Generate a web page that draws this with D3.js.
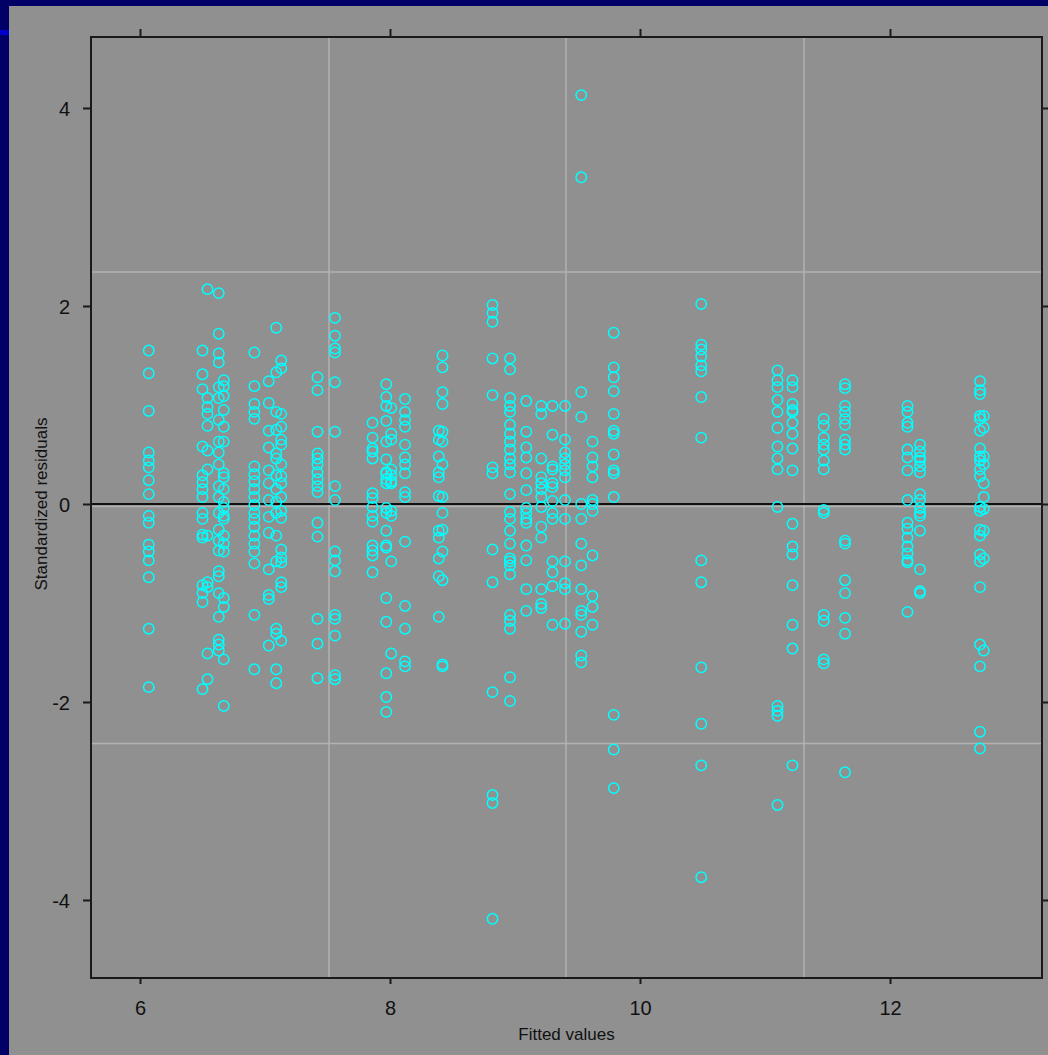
<!DOCTYPE html>
<html>
<head>
<meta charset="utf-8">
<script src="https://cdn.jsdelivr.net/npm/d3@7"></script>
<style>
  body { margin: 0; background: #000066; overflow: hidden; }
  text { font-family: "Liberation Sans", Arial, sans-serif; fill: #111; }
</style>
</head>
<body>
<script>
// fitted value of each column of points
var columnFits = [6.07, 6.50, 6.54, 6.63, 6.67, 6.915, 7.03, 7.09, 7.13, 7.42, 7.56,
  7.86, 7.97, 8.01, 8.12, 8.39, 8.42, 8.82, 8.96, 9.09, 9.21, 9.30, 9.40, 9.53,
  9.62, 9.79, 10.49, 11.10, 11.22, 11.47, 11.64, 12.14, 12.24, 12.72, 12.75];

// standardized residuals for each column (same order as columnFits)
var columnResiduals = [
  [1.55, 1.32, 0.94, 0.52, 0.44, 0.37, 0.24, 0.10, -0.12, -0.19, -0.41, -0.48, -0.57, -0.74, -1.26, -1.85],
  [1.55, 1.31, 1.16, 0.58, 0.29, 0.22, 0.15, 0.07, -0.09, -0.15, -0.31, -0.34, -0.82, -0.90, -0.99, -1.87],
  [2.17, 1.07, 0.98, 0.91, 0.79, 0.54, 0.35, -0.32, -0.79, -0.84, -1.51, -1.77],
  [2.13, 1.72, 1.52, 1.43, 1.18, 1.07, 0.85, 0.63, 0.52, 0.40, 0.18, 0.07, -0.09, -0.26, -0.37, -0.47, -0.68, -0.73, -0.90, -1.14, -1.37, -1.42, -1.48],
  [1.25, 1.19, 1.09, 0.95, 0.78, 0.63, 0.31, 0.27, 0.15, 0.02, -0.04, -0.12, -0.15, -0.32, -0.40, -0.48, -0.95, -1.04, -1.57, -2.04],
  [1.53, 1.19, 1.01, 0.93, 0.86, 0.38, 0.30, 0.23, 0.15, 0.07, -0.01, -0.09, -0.15, -0.23, -0.32, -0.40, -0.48, -0.60, -1.12, -1.67],
  [1.24, 1.02, 0.74, 0.57, 0.34, 0.21, 0.04, -0.13, -0.29, -0.66, -0.92, -0.96, -1.43],
  [1.78, 1.33, 0.93, 0.75, 0.51, 0.46, 0.29, 0.15, 0.02, -0.09, -0.32, -0.58, -1.26, -1.31, -1.67, -1.81],
  [1.45, 1.37, 0.91, 0.78, 0.65, 0.60, 0.40, 0.28, 0.21, 0.07, -0.07, -0.14, -0.46, -0.54, -0.59, -0.79, -0.84, -1.38],
  [1.28, 1.15, 0.73, 0.51, 0.46, 0.40, 0.32, 0.25, 0.18, 0.12, -0.19, -0.33, -1.16, -1.41, -1.76],
  [1.88, 1.70, 1.57, 1.53, 1.23, 0.73, 0.18, 0.04, -0.48, -0.57, -0.68, -1.12, -1.16, -1.33, -1.73, -1.77],
  [0.82, 0.67, 0.56, 0.53, 0.46, 0.11, 0.06, -0.03, -0.12, -0.18, -0.42, -0.47, -0.52, -0.69],
  [1.21, 1.08, 0.99, 0.84, 0.63, 0.45, 0.32, 0.31, 0.25, 0.21, -0.04, -0.09, -0.27, -0.42, -0.44, -0.95, -1.19, -1.71, -1.95, -2.10],
  [0.97, 0.71, 0.65, 0.35, 0.29, 0.23, 0.21, -0.07, -0.12, -0.58, -1.51],
  [1.06, 0.93, 0.85, 0.78, 0.60, 0.47, 0.40, 0.31, 0.12, 0.07, -0.38, -1.03, -1.26, -1.59, -1.64],
  [0.74, 0.65, 0.48, 0.32, 0.27, 0.08, -0.27, -0.34, -0.55, -0.73, -1.14],
  [1.50, 1.38, 1.13, 1.01, 0.73, 0.63, 0.40, 0.07, -0.09, -0.26, -0.48, -0.77, -1.62, -1.64],
  [2.01, 1.93, 1.84, 1.47, 1.10, 0.37, 0.31, -0.46, -0.79, -1.90, -2.94, -3.02, -4.19],
  [1.47, 1.36, 1.07, 0.99, 0.93, 0.80, 0.71, 0.63, 0.55, 0.46, 0.40, 0.32, 0.10, -0.08, -0.15, -0.27, -0.40, -0.55, -0.58, -0.62, -0.71, -1.12, -1.18, -1.26, -1.75, -1.99],
  [1.04, 0.73, 0.57, 0.47, 0.31, 0.14, -0.04, -0.09, -0.15, -0.19, -0.42, -0.57, -0.86, -1.08],
  [0.99, 0.91, 0.46, 0.27, 0.21, 0.15, 0.07, -0.03, -0.23, -0.34, -0.86, -1.01, -1.05],
  [0.99, 0.70, 0.38, 0.35, 0.21, 0.17, 0.03, -0.09, -0.15, -0.58, -0.69, -0.83, -1.22],
  [0.99, 0.65, 0.52, 0.46, 0.40, 0.34, 0.27, 0.04, -0.15, -0.58, -0.80, -0.86, -1.21],
  [4.13, 3.30, 1.13, 0.88, 0.00, -0.15, -0.40, -0.62, -0.86, -1.08, -1.12, -1.29, -1.53, -1.60],
  [0.63, 0.47, 0.38, 0.27, 0.04, 0.00, -0.07, -0.52, -0.93, -1.04, -1.22],
  [1.73, 1.38, 1.28, 1.14, 0.91, 0.74, 0.71, 0.50, 0.34, 0.31, 0.07, -2.13, -2.48, -2.87],
  [2.02, 1.61, 1.56, 1.49, 1.40, 1.34, 1.08, 0.67, -0.57, -0.79, -1.65, -2.22, -2.64, -3.77],
  [1.35, 1.25, 1.18, 1.05, 0.93, 0.77, 0.58, 0.46, 0.35, -0.03, -2.04, -2.09, -2.14, -3.04],
  [1.25, 1.18, 1.01, 0.95, 0.93, 0.82, 0.71, 0.56, 0.34, -0.20, -0.43, -0.51, -0.82, -1.22, -1.46, -2.64],
  [0.86, 0.79, 0.67, 0.60, 0.55, 0.44, 0.35, -0.06, -0.09, -1.12, -1.18, -1.57, -1.61],
  [1.21, 1.17, 0.99, 0.93, 0.86, 0.80, 0.65, 0.60, 0.55, -0.37, -0.40, -0.77, -0.90, -1.15, -1.31, -2.71],
  [0.99, 0.93, 0.82, 0.78, 0.55, 0.47, 0.34, 0.04, -0.19, -0.25, -0.34, -0.43, -0.50, -0.57, -0.59, -1.09],
  [0.60, 0.53, 0.47, 0.44, 0.38, 0.32, 0.10, 0.04, -0.04, -0.09, -0.12, -0.27, -0.66, -0.88, -0.90],
  [1.24, 1.15, 1.11, 0.89, 0.86, 0.74, 0.56, 0.48, 0.44, 0.35, 0.28, -0.03, -0.07, -0.26, -0.32, -0.51, -0.58, -0.84, -1.42, -1.64, -2.30, -2.47],
  [0.89, 0.77, 0.48, 0.40, 0.21, 0.07, -0.05, -0.27, -0.55, -1.48]
];

// axis ticks and the light reference lines
var xTicks = [6, 8, 10, 12];
var yTicks = [-4, -2, 0, 2, 4];
var xRefLines = [7.512, 9.408, 11.312];
var yRefLines = [2.343, -0.025, -2.419];

// flatten columns into points
var points = [];
for (let i = 0; i < columnFits.length; i++){
  for (let j = 0; j < columnResiduals[i].length; j++){
    points.push({"fit": columnFits[i], "res": columnResiduals[i][j]});
  }
}

var w = 1048;
var h = 1055;
var box = {left: 91, right: 1042, top: 37, bottom: 978};

var svg = d3.select("body")
            .append("svg")
            .attr("width", w)
            .attr("height", h);

// gray panel and the little blue strip on the left
svg.append("rect")
   .attr("x", 9).attr("y", 6)
   .attr("width", w - 9).attr("height", h - 6)
   .style("fill", "#909090");
svg.append("rect")
   .attr("x", 0).attr("y", 30)
   .attr("width", 9).attr("height", 5)
   .style("fill", "#0000c8");

var xScale = d3.scaleLinear()
               .domain([5.608, 13.216])
               .range([box.left, box.right]);

var yScale = d3.scaleLinear()
               .domain([4.717, -4.788])
               .range([box.top, box.bottom]);

// reference lines
svg.append("g")
   .selectAll("line")
   .data(xRefLines)
   .enter()
   .append("line")
   .attr("x1", function(d){ return xScale(d); })
   .attr("x2", function(d){ return xScale(d); })
   .attr("y1", box.top).attr("y2", box.bottom)
   .style("stroke", "#b2b2b2")
   .style("stroke-width", 1.5);

svg.append("g")
   .selectAll("line")
   .data(yRefLines)
   .enter()
   .append("line")
   .attr("x1", box.left).attr("x2", box.right)
   .attr("y1", function(d){ return yScale(d); })
   .attr("y2", function(d){ return yScale(d); })
   .style("stroke", "#b2b2b2")
   .style("stroke-width", 1.5);

// zero line
svg.append("line")
   .attr("x1", box.left).attr("x2", box.right)
   .attr("y1", yScale(0)).attr("y2", yScale(0))
   .style("stroke", "#111")
   .style("stroke-width", 2);

// points
svg.append("g")
   .selectAll("circle")
   .data(points)
   .enter()
   .append("circle")
   .attr("cx", function(d){ return xScale(d.fit); })
   .attr("cy", function(d){ return yScale(d.res); })
   .attr("r", 5.2)
   .style("fill", "none")
   .style("stroke", "#00ffff")
   .style("stroke-width", 1.5);

// plain hyphen for negatives, like the original
var fmt = function(d){ return String(d); };

// axes
var xAxisBottom = d3.axisBottom(xScale).tickValues(xTicks).tickSize(6).tickFormat(fmt);
var xAxisTop = d3.axisTop(xScale).tickValues(xTicks).tickSize(8).tickFormat("");
var yAxisLeft = d3.axisLeft(yScale).tickValues(yTicks).tickSize(8).tickFormat(fmt);
var yAxisRight = d3.axisRight(yScale).tickValues(yTicks).tickSize(8).tickFormat("");

var gxb = svg.append("g").attr("class", "axis")
   .attr("transform", "translate(0," + box.bottom + ")")
   .call(xAxisBottom);
svg.append("g").attr("class", "axis")
   .attr("transform", "translate(0," + box.top + ")")
   .call(xAxisTop);
var gyl = svg.append("g").attr("class", "axis")
   .attr("transform", "translate(" + box.left + ",0)")
   .call(yAxisLeft);
svg.append("g").attr("class", "axis")
   .attr("transform", "translate(" + box.right + ",0)")
   .call(yAxisRight);

svg.selectAll(".axis .domain").remove();
svg.selectAll(".axis line").style("stroke", "#1a1a1a").style("stroke-width", 2);
svg.selectAll(".axis text")
   .style("font-family", "'Liberation Sans', Arial, sans-serif")
   .style("font-size", "20px")
   .style("fill", "#111");

// place tick labels like the original
gxb.selectAll("text").attr("y", 37).attr("dy", null);
gyl.selectAll("text").attr("x", -21).attr("dy", "0.36em");

// box around plot
svg.append("rect")
   .attr("x", box.left).attr("y", box.top)
   .attr("width", box.right - box.left)
   .attr("height", box.bottom - box.top)
   .style("fill", "none")
   .style("stroke", "#1a1a1a")
   .style("stroke-width", 2);

// axis titles
svg.append("text")
   .attr("x", (box.left + box.right) / 2)
   .attr("y", 1040)
   .style("text-anchor", "middle")
   .style("font-size", "17px")
   .text("Fitted values");

svg.append("text")
   .attr("transform", "rotate(-90)")
   .attr("x", -504)
   .attr("y", 47)
   .style("text-anchor", "middle")
   .style("font-size", "17px")
   .text("Standardized residuals");
</script>
</body>
</html>
